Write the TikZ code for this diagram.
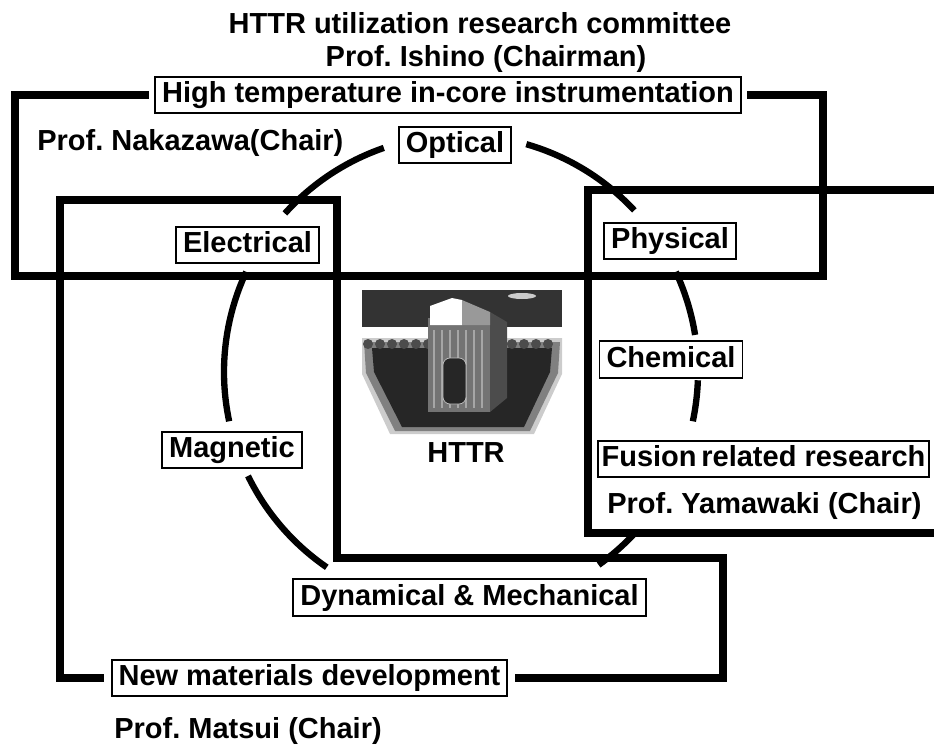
\documentclass[tikz,border=0pt]{standalone}
\usepackage{fontspec}
\setmainfont{Liberation Sans}
\frenchspacing

\tikzset{
	frame/.style={line width=4.2pt, line join=miter},
	ring/.style={line width=3.6pt, line cap=butt},
	tag/.style={draw, line width=1.1pt, fill=white, inner xsep=4pt, inner ysep=2.5pt,
		text height=12.3pt, text depth=3.6pt},
	chair/.style={inner sep=0pt}
}

\begin{document}
\begin{tikzpicture}[x=0.02cm,y=-0.02cm,font=\fontsize{16.5}{19}\selectfont\bfseries]
	\useasboundingbox (0,0) rectangle (934,747);
	\coordinate (hub) at (461,372);

	% committee heading
	\node[chair,anchor=base] (committee) at (480,33) {HTTR utilization research committee};
	\node[chair,anchor=base] (chairman) at (486,67) {Prof. Ishino (Chairman)};

	% the three working groups
	\node[tag] (instr) at (448,95) {High temperature in-core instrumentation};
	\node[chair,anchor=base west] (nakazawa) at (37,150) {Prof. Nakazawa(Chair)};
	\node[tag,inner xsep=2pt] (fusion) at (763.5,459) {Fusion\,related research};
	\node[chair,anchor=base west] (yamawaki) at (607,513) {Prof. Yamawaki (Chair)};
	\node[tag] (newmat) at (309.5,678) {New materials development};
	\node[chair,anchor=base west] (matsui) at (114,738) {Prof. Matsui (Chair)};

	% subjects round the ring
	\foreach \name/\x/\y/\txt in {
		optical/455/145/Optical,
		electrical/247.5/245/Electrical,
		physical/670/241/Physical,
		chemical/671/359.5/Chemical,
		magnetic/232/450/Magnetic,
		dynamical/469.5/597.5/Dynamical \& Mechanical}
		\node[tag] (\name) at (\x,\y) {\txt};

	% group frames
	\draw[frame] ([xshift=-3pt]instr.west) -| (15,276) -| (823,95) -- ([xshift=3pt]instr.east);
	\draw[frame] (940,190) -| (588,533) -- (940,533);
	\draw[frame] ([xshift=4pt]newmat.east) -| (723,558) -| (337,200) -| (60,678) -- ([xshift=-4pt]newmat.west);

	% the ring, broken at each tag
	\foreach \a/\b in {-138/-109, -74/-43, 168/205, 124.5/154, -25/-9, 2/12, 42.5/54.5}
		\draw[ring] (hub) ++(\a:237) arc[start angle=\a, end angle=\b, radius=237];

	% reactor building in the middle
	\fill[black!80] (362,290) rectangle (562,327);
	\fill[black!20] (522,296) ellipse (14 and 3);
	\fill[black!20] (362,338) -- (562,338) -- (562,374) -- (534,434) -- (390,434) -- (362,374) -- cycle;
	\fill[black!50] (364,342) -- (560,342) -- (558,373) -- (530,431) -- (395,431) -- (366,373) -- cycle;
	\fill[black!85] (372,348) -- (552,348) -- (550,372) -- (524,427) -- (402,427) -- (374,372) -- cycle;
	\foreach \x in {368,380,...,556}
		\fill[black!70] (\x,344) circle (5);
	\fill[black!55] (428,318) rectangle (490,412);
	\fill[black!70] (490,312) -- (507,322) -- (507,398) -- (490,412) -- cycle;
	\foreach \x in {434,442,...,484}
		\draw[black!35,line width=0.6pt] (\x,330) -- (\x,408);
	\fill[white] (430,325) -- (430,306) -- (452,298) -- (462,300) -- (462,325) -- cycle;
	\fill[black!40] (462,300) -- (490,312) -- (490,325) -- (462,325) -- cycle;
	\draw[black!25,fill=black!85,rounded corners=4pt] (443,358) rectangle (466,404);
	\node[chair,anchor=base] (httr) at (466,462) {HTTR};
\end{tikzpicture}
\end{document}
